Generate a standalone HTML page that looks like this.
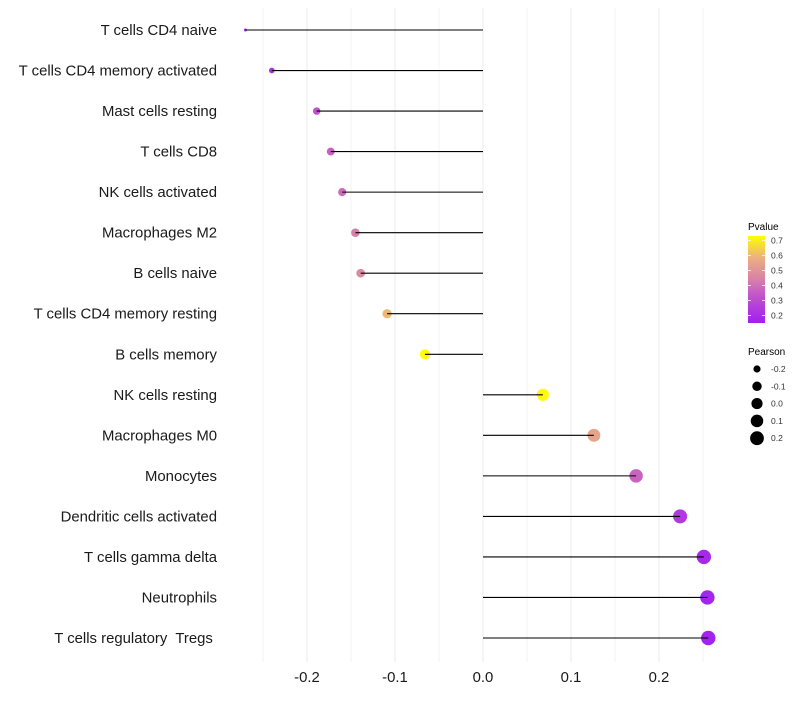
<!DOCTYPE html>
<html><head><meta charset="utf-8"><style>
body{margin:0;background:#fff;font-family:"Liberation Sans",sans-serif;}
svg text{font-family:"Liberation Sans",sans-serif;white-space:pre;}
</style></head><body>
<svg id="chart" width="800" height="700">
<g id="grid"></g>
<g id="marks"></g>
<g id="ylabels"></g>
<g id="xlabels"></g>
<g id="legend">
<defs><linearGradient id="pg" x1="0" y1="1" x2="0" y2="0">
<stop offset="0" stop-color="#A020F0"/><stop offset="0.3" stop-color="#C050D0"/><stop offset="0.5" stop-color="#D880A8"/><stop offset="0.75" stop-color="#EBB080"/><stop offset="1" stop-color="#FFFF00"/></linearGradient></defs>
<text x="748" y="230" font-size="10">Pvalue</text>
<rect x="748" y="236" width="17" height="87" fill="url(#pg)"/>
<text x="748" y="355" font-size="10">Pearson</text>
</g>
</svg>
<script>
const categories=["T cells CD4 naive","T cells CD4 memory activated","Mast cells resting","T cells CD8","NK cells activated","Macrophages M2","B cells naive","T cells CD4 memory resting","B cells memory","NK cells resting","Macrophages M0","Monocytes","Dendritic cells activated","T cells gamma delta","Neutrophils","T cells regulatory  Tregs "];
const pearson=[-0.270,-0.240,-0.189,-0.173,-0.160,-0.145,-0.139,-0.109,-0.066,0.068,0.126,0.174,0.224,0.251,0.255,0.256];
const pvalues=[0.17,0.21,0.33,0.36,0.39,0.44,0.47,0.60,0.74,0.72,0.55,0.37,0.24,0.18,0.17,0.16];
const xTicks=[-0.2,-0.1,0.0,0.1,0.2];
const xTickLabels=["-0.2","-0.1","0.0","0.1","0.2"];
const pLegendTicks=[0.2,0.3,0.4,0.5,0.6,0.7];
const sizeLegendVals=[-0.2,-0.1,0.0,0.1,0.2];

const NS="http://www.w3.org/2000/svg";
const x=v=>483+v*880;
const y=i=>30+i*(608/15);
const r=v=>1.5+5.7*Math.sqrt(Math.max(0,(v+0.27)/0.526));
const stops=[[0.15,[160,32,240]],[0.324,[192,80,208]],[0.44,[216,128,168]],[0.585,[235,176,128]],[0.73,[255,255,0]]];
function col(p){p=Math.max(0.15,Math.min(0.73,p));for(let k=0;k<stops.length-1;k++){const a=stops[k],b=stops[k+1];if(p<=b[0]){const t=(p-a[0])/(b[0]-a[0]);return "rgb("+a[1].map((c,j)=>Math.round(c+(b[1][j]-c)*t)).join(",")+")";}}return "rgb(255,255,0)";}
function mk(tag,at,parent){const e=document.createElementNS(NS,tag);for(const k in at)e.setAttribute(k,at[k]);parent.appendChild(e);return e;}
const grid=document.getElementById('grid'),marks=document.getElementById('marks'),yl=document.getElementById('ylabels'),xl=document.getElementById('xlabels'),lg=document.getElementById('legend');
for(let g=-0.25;g<=0.251;g+=0.05){const l=mk('line',{x1:x(g),x2:x(g),y1:8,y2:662,stroke:Math.abs(Math.round(g*20))%2==0?'#ebebeb':'#f3f3f3','stroke-width':1},grid);

}
categories.forEach((c,i)=>{
const pt=mk('circle',{cx:x(pearson[i]),cy:y(i),r:r(pearson[i]),fill:col(pvalues[i])},marks);


const ln=mk('line',{x1:x(0),x2:x(pearson[i]),y1:y(i),y2:y(i),stroke:'#000','stroke-width':1.1},marks);


const t=mk('text',{x:217,y:y(i)+5,'text-anchor':'end','font-size':14.9,fill:'#1a1a1a'},yl);t.textContent=c;


});
xTicks.forEach((v,i)=>{const t=mk('text',{x:x(v),y:682,'text-anchor':'middle','font-size':14.9,fill:'#1a1a1a'},xl);t.textContent=xTickLabels[i];

});
pLegendTicks.forEach(p=>{const yy=323-(p-0.15)/0.58*87;
const tk=mk('line',{x1:748,x2:751,y1:yy,y2:yy,stroke:'#fff','stroke-width':0.8},lg);


const tk2=mk('line',{x1:762,x2:765,y1:yy,y2:yy,stroke:'#fff','stroke-width':0.8},lg);


const t=mk('text',{x:771,y:yy+3,'font-size':8.5,fill:'#333'},lg);t.textContent=p.toFixed(1);

});
sizeLegendVals.forEach((v,i)=>{const yy=369+i*17.3;
const c=mk('circle',{cx:757,cy:yy,r:r(v),fill:'#000'},lg);


const t=mk('text',{x:771,y:yy+3,'font-size':8.5,fill:'#333'},lg);t.textContent=v.toFixed(1);

});
</script>
</body></html>
